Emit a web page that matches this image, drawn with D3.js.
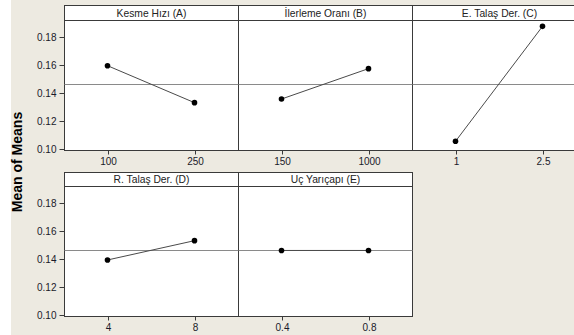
<!DOCTYPE html>
<html><head><meta charset="utf-8">
<script src="https://cdn.jsdelivr.net/npm/d3@7"></script>
<style>
html,body{margin:0;padding:0;background:#fff;}
svg{display:block;}
</style></head>
<body>
<svg id="c" width="574" height="335"></svg>
<script>
// ---- data ----
const factors = ["Kesme Hızı (A)", "İlerleme Oranı (B)", "E. Talaş Der. (C)", "R. Talaş Der. (D)", "Uç Yarıçapı (E)"];
const levelsA = ["100", "250"];
const levelsB = ["150", "1000"];
const levelsC = ["1", "2.5"];
const levelsD = ["4", "8"];
const levelsE = ["0.4", "0.8"];
const meansA = [0.1595, 0.1331];
const meansB = [0.1357, 0.1574];
const meansC = [0.1055, 0.1876];
const meansD = [0.1393, 0.1531];
const meansE = [0.1461, 0.1461];
const grandMean = 0.1464;
const yTicks = [0.10, 0.12, 0.14, 0.16, 0.18];
const yTitle = "Mean of Means";

const panels = [
  {title: factors[0], levels: levelsA, means: meansA, row: 0, col: 0},
  {title: factors[1], levels: levelsB, means: meansB, row: 0, col: 1},
  {title: factors[2], levels: levelsC, means: meansC, row: 0, col: 2},
  {title: factors[3], levels: levelsD, means: meansD, row: 1, col: 0},
  {title: factors[4], levels: levelsE, means: meansE, row: 1, col: 1}
];

// ---- layout ----
const svg = d3.select("#c");
svg.append("rect").attr("x", 11).attr("y", 0).attr("width", 563).attr("height", 335).attr("fill", "#EDEAE1");

const left = 64, pw = 174;
const rows = [{top: 5.5, head: 20.5, bottom: 150.5}, {top: 172.5, head: 186.5, bottom: 316.5}];
const font = "Tahoma, 'Liberation Sans', Arial, sans-serif";
const frame = "#3a3a3a";

rows.forEach((r, ri) => {
  const y = d3.scaleLinear().domain([0.10, 0.10 + (r.bottom - 1.5 - r.head) / 28 * 0.02]).range([r.bottom - 1.5, r.head]);
  const ya = svg.append("g").attr("transform", `translate(${left + 0.5},0)`)
    .call(d3.axisLeft(y).tickValues(yTicks).tickFormat(d3.format(".2f")).tickSize(5).tickSizeOuter(0).tickPadding(3));
  ya.select(".domain").remove();
  ya.selectAll("line").attr("stroke", frame);
  ya.selectAll("text").attr("font-family", font).attr("font-size", 10).attr("fill", "#1a1a2a");
});

panels.forEach(p => {
  const r = rows[p.row];
  const x0 = left + p.col * pw;
  const x = d3.scalePoint().domain(p.levels).range([x0, x0 + pw]).padding(0.5);
  const y = d3.scaleLinear().domain([0.10, 0.10 + (r.bottom - 1.5 - r.head) / 28 * 0.02]).range([r.bottom - 1.5, r.head]);
  const g = svg.append("g");
  g.append("rect").attr("x", x0 + 0.5).attr("y", r.top).attr("width", pw).attr("height", r.bottom - r.top)
    .attr("fill", "#fff").attr("stroke", frame).attr("stroke-width", 1);
  g.append("line").attr("x1", x0 + 0.5).attr("x2", x0 + pw + 0.5).attr("y1", r.head).attr("y2", r.head)
    .attr("stroke", frame);
  g.append("text").attr("x", x0 + pw / 2 + 0.5).attr("y", r.head - 3.5).attr("text-anchor", "middle")
    .attr("font-family", font).attr("font-size", 10.3).attr("fill", "#222").text(p.title);
  g.append("line").attr("x1", x0 + 0.5).attr("x2", x0 + pw + 0.5).attr("y1", Math.round(y(grandMean)) + 0.5).attr("y2", Math.round(y(grandMean)) + 0.5)
    .attr("stroke", "#8a8a8a").attr("stroke-width", 1);
  const xa = g.append("g").attr("transform", `translate(0.5,${r.bottom})`)
    .call(d3.axisBottom(x).tickSize(4).tickSizeOuter(0).tickPadding(3));
  xa.select(".domain").remove();
  xa.selectAll("line").attr("stroke", frame);
  xa.selectAll("text").attr("font-family", font).attr("font-size", 10).attr("fill", "#1a1a2a");
  const pts = p.levels.map((l, i) => [x(l), y(p.means[i])]);
  g.append("path").attr("d", d3.line()(pts)).attr("fill", "none").attr("stroke", "#4a4a4a").attr("stroke-width", 1);
  g.selectAll("circle").data(pts).join("circle").attr("cx", d => d[0]).attr("cy", d => d[1]).attr("r", 2.8).attr("fill", "#000");
});

svg.append("text").attr("transform", "translate(22,162) rotate(-90)").attr("text-anchor", "middle")
  .attr("font-family", font).attr("font-weight", "bold").attr("font-size", 14).attr("fill", "#000").text(yTitle);
</script>
</body></html>
